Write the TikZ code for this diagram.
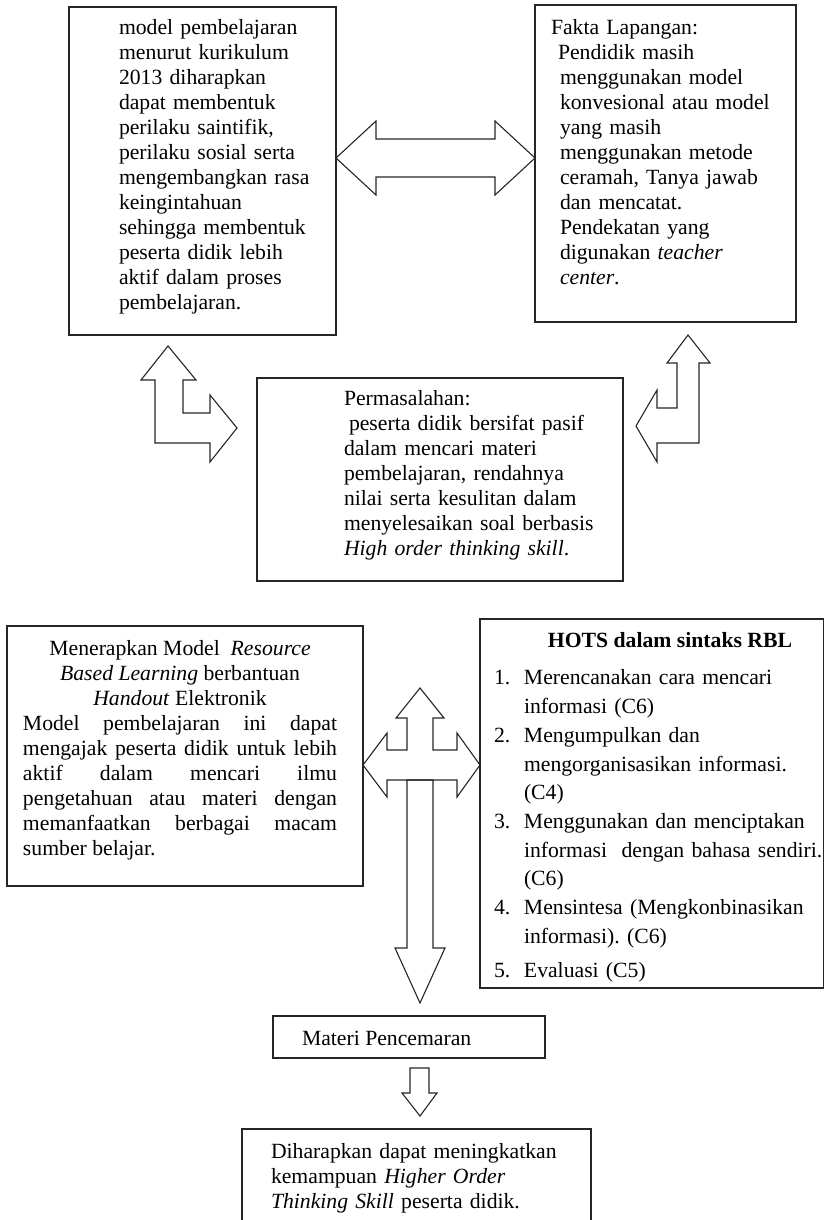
\documentclass[tikz,border=0pt]{standalone}
\usepackage{fontspec}
\setmainfont{Liberation Serif}
\newcommand\fs{\fontsize{21.7}{25}\selectfont\frenchspacing\tolerance=10000\hbadness=10000\hyphenpenalty=10000}
\newcommand\fsl{\fontsize{21.7}{28.7}\selectfont\frenchspacing}
\tikzset{
  box/.style={draw=black!85, line width=1.5pt, inner sep=0pt, outer sep=0pt},
  blk/.style={draw=black!85, line width=1.1pt, line join=miter},
  txt/.style={inner sep=0pt, outer sep=0pt, anchor=north west, align=left, text width=#1, font=\fs},
  one/.style={inner sep=0pt, outer sep=0pt, font=\fs},
}
\begin{document}
\begin{tikzpicture}[x=1pt,y=-1pt]
\useasboundingbox (0,0) rectangle (824,1220);

% boxes
\node[box, minimum width=267pt, minimum height=328pt] (tl) at (202.5,171) {};
\node[box, minimum width=261pt, minimum height=317pt] (tr) at (665.5,163.5) {};
\node[box, minimum width=366pt, minimum height=203pt] (perm) at (440,479.5) {};
\node[box, minimum width=356pt, minimum height=260pt] (men) at (185,756) {};
\node[box, minimum width=344pt, minimum height=369pt] (hots) at (652,803.5) {};
\node[box, minimum width=272pt, minimum height=42pt] (mat) at (409,1037) {};
\node[box, minimum width=349pt, minimum height=111pt] (bot) at (416.5,1184.5) {};

% texts
\node[txt=260pt] (tlt) at (119,17.5) {\strut model pembelajaran\\ menurut kurikulum\\ 2013 diharapkan\\ dapat membentuk\\ perilaku saintifik,\\ perilaku sosial serta\\ mengembangkan rasa\\ keingintahuan\\ sehingga membentuk\\ peserta didik lebih\\ aktif dalam proses\\ pembelajaran.};

\node[txt=260pt] (trt) at (551,17.5) {\strut Fakta Lapangan:\\ \hspace*{7pt}Pendidik masih\\ \hspace*{9pt}menggunakan model\\ \hspace*{9pt}konvesional atau model\\ \hspace*{9pt}yang masih\\ \hspace*{9pt}menggunakan metode\\ \hspace*{9pt}ceramah, Tanya jawab\\ \hspace*{9pt}dan mencatat.\\ \hspace*{9pt}Pendekatan yang\\ \hspace*{9pt}digunakan \textit{teacher}\\ \hspace*{9pt}\textit{center}.};

\node[txt=300pt] (permt) at (344,387.5) {\strut Permasalahan:\\ \hspace*{5pt}peserta didik bersifat pasif\\ dalam mencari materi\\ pembelajaran, rendahnya\\ nilai serta kesulitan dalam\\ menyelesaikan soal berbasis\\ \textit{High order thinking skill}.};

\node[txt=314pt, align=justify] (ment) at (23,637.5) {\strut{\centering Menerapkan Model\ \ \textit{Resource}\\ \textit{Based Learning} berbantuan\\ \textit{Handout} Elektronik\par}Model pembelajaran ini dapat\linebreak mengajak peserta didik untuk lebih\linebreak aktif dalam mencari ilmu\linebreak pengetahuan atau materi dengan\linebreak memanfaatkan berbagai macam\linebreak sumber belajar.};

\node[one, anchor=base] (hotst) at (670,647) {\bfseries HOTS dalam sintaks RBL};

\node[txt=335pt, font=\fsl] (hotsl) at (494,664.9) {\strut\makebox[30pt][l]{1.}Merencanakan cara mencari\\ \hspace*{30pt}informasi (C6)\\ \makebox[30pt][l]{2.}Mengumpulkan dan\\ \hspace*{30pt}mengorganisasikan informasi.\\ \hspace*{30pt}(C4)\\ \makebox[30pt][l]{3.}Menggunakan dan menciptakan\\ \hspace*{30pt}informasi\ \ dengan bahasa sendiri.\\ \hspace*{30pt}(C6)\\ \makebox[30pt][l]{4.}Mensintesa (Mengkonbinasikan\\ \hspace*{30pt}informasi). (C6)\\[5.6pt] \makebox[30pt][l]{5.}Evaluasi (C5)};

\node[one, anchor=base west] (matt) at (302,1045) {Materi Pencemaran};

\node[txt=320pt] (bott) at (271,1140.5) {\strut Diharapkan dapat meningkatkan\\ kemampuan \textit{Higher Order}\\ \textit{Thinking Skill} peserta didik.};

% block arrows
% top double arrow between tl and tr
\draw[blk] (336,158) -- (376,121) -- (376,139) -- (495,139) -- (495,121) -- (535,158)
  -- (495,195) -- (495,177) -- (376,177) -- (376,195) -- cycle;
% left bent arrow (up to tl, right to perm)
\draw[blk] (168,346) -- (196,380) -- (183,380) -- (183,413) -- (210,413) -- (210,395)
  -- (237,428) -- (210,462) -- (210,443) -- (155,443) -- (155,380) -- (141,380) -- cycle;
% right bent arrow (up to tr, left to perm)
\draw[blk] (688,335) -- (710,363) -- (699,363) -- (699,443) -- (657,443) -- (657,462)
  -- (636,426) -- (657,390) -- (657,408) -- (677,408) -- (677,363) -- (667,363) -- cycle;
% cross arrow (up, left, right)
\draw[blk] (420,688) -- (444,718) -- (433,718) -- (433,750) -- (457,750) -- (457,733)
  -- (480,765) -- (457,797) -- (457,780) -- (387,780) -- (387,797) -- (363,765)
  -- (387,733) -- (387,750) -- (407,750) -- (407,718) -- (396,718) -- cycle;
% long down arrow to materi
\draw[blk] (407,780) -- (407,948) -- (395,948) -- (420,1003) -- (445,948) -- (433,948)
  -- (433,780) -- cycle;
% small down arrow materi -> bottom
\draw[blk] (410,1068) -- (410,1093) -- (402,1093) -- (420,1116) -- (437,1093) -- (429,1093)
  -- (429,1068) -- cycle;
\end{tikzpicture}
\end{document}
